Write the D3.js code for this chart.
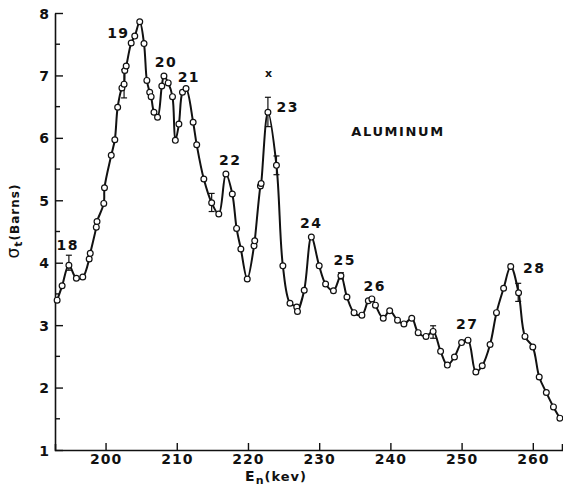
<!DOCTYPE html>
<html>
<head>
<meta charset="utf-8">
<script src="https://cdn.jsdelivr.net/npm/d3@7"></script>
<style>
  html, body { margin: 0; padding: 0; background: #fff; }
  svg { display: block; }
  text { font-family: "DejaVu Sans", sans-serif; font-weight: bold; fill: #111; }
</style>
</head>
<body>
<svg id="chart" width="563" height="487"></svg>
<script>
// ---- data ----
const energy = [193.2,193.9,194.85,195.9,196.8,197.7,197.85,198.7,198.8,199.75,199.85,200.8,201.3,201.7,202.3,202.6,202.7,202.9,203.6,204.1,204.8,205.4,205.8,206.2,206.4,206.8,207.3,207.9,208.2,208.8,209.4,209.8,210.3,210.8,211.3,212.3,212.8,213.8,214.9,215.9,216.9,217.8,218.4,219.0,219.9,220.85,220.95,221.75,221.85,222.8,224.0,224.9,225.9,226.85,226.95,227.9,228.9,230.0,230.9,232.0,233.05,233.9,234.9,236.0,236.9,237.4,237.9,239.0,239.9,241.0,241.9,243.0,243.9,245.0,246.0,247.05,248.0,249.0,250.0,250.9,252.0,252.9,254.0,254.9,255.9,256.9,258.0,258.9,260.0,260.9,261.9,262.9,263.8];
const sigma  = [3.40,3.63,3.96,3.75,3.77,4.06,4.15,4.57,4.66,4.95,5.20,5.72,5.97,6.49,6.80,6.86,7.08,7.15,7.52,7.63,7.86,7.51,6.92,6.73,6.66,6.41,6.33,6.83,6.99,6.88,6.66,5.96,6.22,6.73,6.79,6.25,5.89,5.34,4.96,4.78,5.42,5.10,4.55,4.22,3.74,4.27,4.35,5.23,5.27,6.41,5.56,3.95,3.35,3.29,3.22,3.56,4.41,3.95,3.66,3.55,3.79,3.45,3.20,3.16,3.39,3.42,3.32,3.11,3.23,3.08,3.02,3.11,2.88,2.82,2.90,2.58,2.36,2.49,2.72,2.76,2.25,2.35,2.69,3.20,3.59,3.94,3.52,2.82,2.65,2.17,1.92,1.69,1.51];

const errE    = [194.85,202.6,214.9,222.8,224.0,233.05,246.0,257.95];
const errLow  = [3.88,6.64,4.82,6.18,5.41,3.74,2.79,3.38];
const errHigh = [4.12,7.09,5.11,6.65,5.71,3.84,2.99,3.67];

const peakLabels = ["18","19","20","21","22","23","24","25","26","27","28"];
const peakE      = [194.7,201.8,208.5,211.7,217.5,225.6,228.9,233.6,237.8,250.8,260.2];
const peakS      = [4.29,7.68,7.21,6.97,5.65,6.49,4.64,4.04,3.63,3.02,3.91];

const xTicks = [200,210,220,230,240,250,260];
const yTicks = [1,2,3,4,5,6,7,8];
const yMinor = [1.5,2.5,3.5,4.5,5.5,6.5,7.5];

// ---- scales ----
const svg = d3.select("#chart");
const x = d3.scaleLinear().domain([192.9, 264.1]).range([55, 562]);
const y = d3.scaleLinear().domain([1, 8]).range([450, 13]);

// ---- axes ----
const yAxis = d3.axisLeft(y).tickValues(yTicks).tickFormat(d3.format("d"))
  .tickSizeInner(-8).tickSizeOuter(0).tickPadding(6);
const gy = svg.append("g").attr("transform", "translate(55,0)").call(yAxis);
gy.selectAll("text").style("font-size", "14px").attr("dy", "0.36em");
gy.append("g").selectAll("line").data(yMinor).join("line")
  .attr("x1", 0).attr("x2", 5).attr("y1", d => y(d)).attr("y2", d => y(d))
  .attr("stroke", "#111").attr("stroke-width", 1.4);

const xAxis = d3.axisBottom(x).tickValues(xTicks).tickFormat(d3.format("d"))
  .tickSizeInner(-7).tickSizeOuter(-6).tickPadding(4);
const gx = svg.append("g").attr("transform", "translate(0,450)").call(xAxis);
gx.selectAll("text").style("font-size", "14px").style("letter-spacing", "1px");

svg.selectAll(".domain").attr("stroke", "#111").attr("stroke-width", 1.6);
svg.selectAll(".tick line").attr("stroke", "#111").attr("stroke-width", 1.4);

// ---- curve ----
const pts = energy.map((e, i) => [e, sigma[i]]);
const line = d3.line().x(d => x(d[0])).y(d => y(d[1])).curve(d3.curveCatmullRom.alpha(0.5));
svg.append("path").datum(pts).attr("d", line)
  .attr("fill", "none").attr("stroke", "#111").attr("stroke-width", 2);

// ---- error bars ----
const eb = svg.append("g").attr("stroke", "#111").attr("stroke-width", 1.2);
errE.forEach((e, i) => {
  const xe = x(e);
  eb.append("line").attr("x1", xe).attr("x2", xe).attr("y1", y(errLow[i])).attr("y2", y(errHigh[i]));
  eb.append("line").attr("x1", xe - 3).attr("x2", xe + 3).attr("y1", y(errLow[i])).attr("y2", y(errLow[i]));
  eb.append("line").attr("x1", xe - 3).attr("x2", xe + 3).attr("y1", y(errHigh[i])).attr("y2", y(errHigh[i]));
});

// ---- points ----
svg.append("g").selectAll("circle").data(pts).join("circle")
  .attr("cx", d => x(d[0])).attr("cy", d => y(d[1])).attr("r", 2.9)
  .attr("fill", "#fff").attr("stroke", "#111").attr("stroke-width", 1.2);

// ---- peak labels ----
svg.append("g").selectAll("text").data(peakLabels).join("text")
  .attr("x", (d, i) => x(peakE[i])).attr("y", (d, i) => y(peakS[i]))
  .attr("text-anchor", "middle").attr("dy", "0.36em")
  .style("font-size", "14px").style("letter-spacing", "1.5px")
  .text(d => d);

svg.append("text").attr("x", x(222.9)).attr("y", y(7.04)).attr("dy", "0.35em")
  .attr("text-anchor", "middle").style("font-size", "11px").text("x");

svg.append("text").attr("x", 398).attr("y", 131).attr("dy", "0.36em")
  .attr("text-anchor", "middle").style("font-size", "13px").style("letter-spacing", "1.6px")
  .text("ALUMINUM");

// ---- axis titles ----
const xt = svg.append("text").attr("x", 276).attr("y", 481).attr("text-anchor", "middle")
  .style("font-size", "13px").style("letter-spacing", "1px");
xt.append("tspan").style("font-size", "14px").text("E");
xt.append("tspan").attr("dy", 3).style("font-size", "11px").text("n");
xt.append("tspan").attr("dy", -3).text("(kev)");

const yt = svg.append("text").attr("transform", "translate(19,221) rotate(-90)")
  .attr("text-anchor", "middle").style("font-size", "12px").style("letter-spacing", "1px");
yt.append("tspan").style("font-size", "17px").style("font-weight", "normal").text("σ");
yt.append("tspan").attr("dy", 3).style("font-size", "11px").text("t");
yt.append("tspan").attr("dy", -3).text("(Barns)");
</script>
</body>
</html>
